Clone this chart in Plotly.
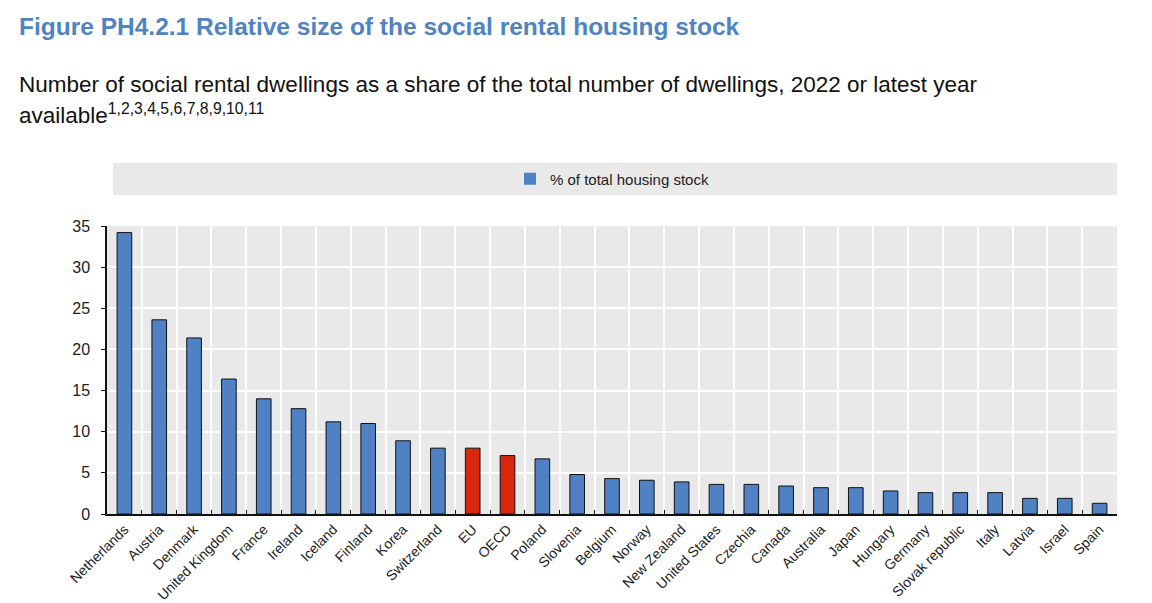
import plotly.graph_objects as go

countries = ["Netherlands", "Austria", "Denmark", "United Kingdom", "France", "Ireland",
             "Iceland", "Finland", "Korea", "Switzerland", "EU", "OECD", "Poland",
             "Slovenia", "Belgium", "Norway", "New Zealand", "United States", "Czechia",
             "Canada", "Australia", "Japan", "Hungary", "Germany", "Slovak republic",
             "Italy", "Latvia", "Israel", "Spain"]
values = [34.2, 23.6, 21.4, 16.4, 14.0, 12.8, 11.2, 11.0, 8.9, 8.0, 8.0, 7.1, 6.7,
          4.8, 4.3, 4.1, 3.9, 3.6, 3.6, 3.4, 3.2, 3.2, 2.8, 2.6, 2.6, 2.6, 1.9, 1.9, 1.3]
highlight = ["EU", "OECD"]
series_name = "% of total housing stock"
y_ticks = [0, 5, 10, 15, 20, 25, 30, 35]

BLUE = "#4f81c4"
RED = "#d9270e"
FONT = "Liberation Sans, Arial, sans-serif"

colors = [RED if c in highlight else BLUE for c in countries]

fig = go.Figure()
fig.add_trace(go.Bar(
    x=countries, y=values, name=series_name,
    marker=dict(color=colors, line=dict(color="#111111", width=1)),
    width=0.42, showlegend=False,
))
# legend entry
fig.add_trace(go.Bar(
    x=[countries[0]], y=[0], name=series_name,
    marker=dict(color=BLUE, line=dict(color=BLUE, width=0)),
    showlegend=True, hoverinfo="skip",
))

fig.update_layout(
    width=1152, height=603,
    margin=dict(l=99, r=43, t=218, b=97, autoexpand=False),
    paper_bgcolor="white",
    plot_bgcolor="#e9e9e9",
    font=dict(family=FONT, color="#222222"),
    barmode="overlay",
    showlegend=True,
    legend=dict(
        orientation="h", x=0.5, xanchor="center", y=1.163, yanchor="middle",
        bgcolor="rgba(0,0,0,0)", font=dict(size=15, family=FONT, color="#222222"),
        itemsizing="constant",
    ),
    xaxis=dict(
        automargin=False,
        tickangle=-45, tickfont=dict(size=14, family=FONT, color="#222222"),
        showline=True, linecolor="#111111", linewidth=1.5,
        ticks="inside", tickson="boundaries", ticklen=4, tickcolor="#111111",
        showgrid=True, gridcolor="white", gridwidth=1.5,
        range=[-0.5, len(countries) - 0.5],
    ),
    yaxis=dict(
        automargin=False,
        range=[0, 35], tickvals=y_ticks,
        tickfont=dict(size=16, family=FONT, color="#222222"),
        showline=True, linecolor="#111111", linewidth=1.5,
        ticks="outside", ticklen=4, tickcolor="#111111",
        ticklabelstandoff=8,
        showgrid=True, gridcolor="white", gridwidth=2,
        zeroline=False,
    ),
    shapes=[dict(
        type="rect", xref="paper", yref="paper",
        x0=0.006, x1=1.0, y0=1.108, y1=1.219,
        fillcolor="#e9e9e9", line=dict(width=0), layer="below",
    )],
    annotations=[
        dict(text="<b>Figure PH4.2.1 Relative size of the social rental housing stock</b>",
             xref="paper", yref="paper", x=-0.089, y=1.691, xanchor="left", yanchor="middle",
             showarrow=False, font=dict(size=24.5, family=FONT, color="#5083bf")),
        dict(text="Number of social rental dwellings as a share of the total number of dwellings, 2022 or latest year",
             xref="paper", yref="paper", x=-0.089, y=1.493, xanchor="left", yanchor="middle",
             showarrow=False, font=dict(size=22.5, family=FONT, color="#111111")),
        dict(text="available<sup>1,2,3,4,5,6,7,8,9,10,11</sup>",
             xref="paper", yref="paper", x=-0.089, y=1.389, xanchor="left", yanchor="middle",
             showarrow=False, font=dict(size=22.5, family=FONT, color="#111111")),
    ],
)

fig.write_html("out.html")
